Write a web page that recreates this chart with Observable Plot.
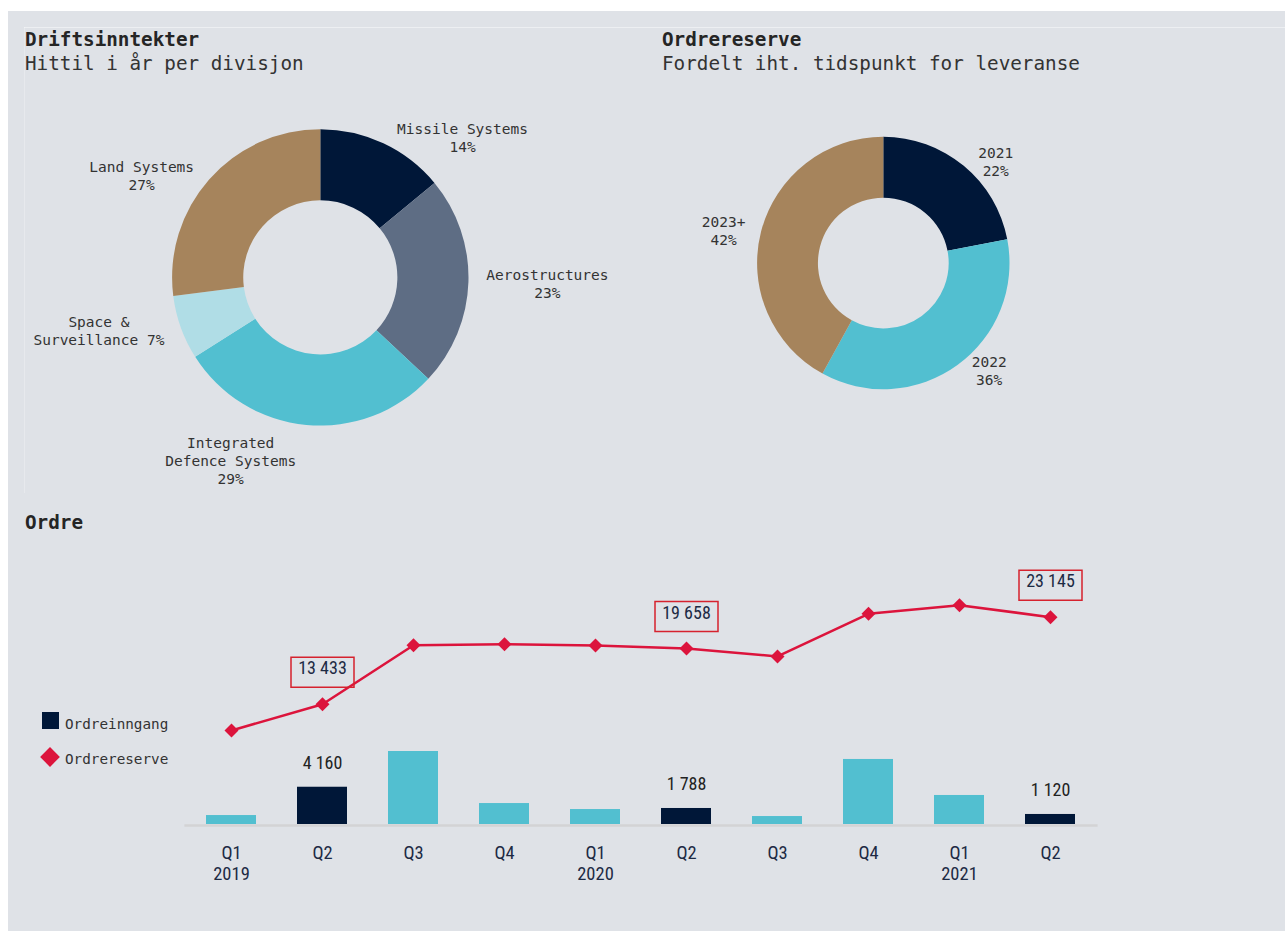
<!DOCTYPE html>
<html>
<head>
<meta charset="utf-8">
<script src="https://cdn.jsdelivr.net/npm/d3@7"></script>
<script src="https://cdn.jsdelivr.net/npm/@observablehq/plot@0.6"></script>
<style>
  html, body { margin: 0; padding: 0; background: #ffffff; width: 1285px; height: 931px; overflow: hidden; position: relative; }
  #panel { position: absolute; left: 8px; top: 11px; width: 1277px; height: 920px; background: #dfe2e7; }
  .hl { position: absolute; left: 24px; top: 27px; width: 1261px; height: 1px; background: rgba(255,255,255,0.45); }
  .vl { position: absolute; left: 24px; top: 27px; width: 1px; height: 466px; background: rgba(255,255,255,0.25); }
  .abs { position: absolute; }
  .t, .s { position: absolute; font-family: "DejaVu Sans Mono", monospace; font-size: 19.3px; line-height: 19.3px; white-space: pre; }
  .t { font-weight: bold; color: #252525; }
  .s { color: #333333; }
  .lg { position: absolute; font-family: "DejaVu Sans Mono", monospace; font-size: 14.3px; line-height: 14.3px; color: #333333; white-space: pre; }
  .sq { position: absolute; left: 42px; top: 712px; width: 17px; height: 17px; background: #001738; }
  .dm { position: absolute; left: 43px; top: 750px; width: 14px; height: 14px; background: #dc143c; transform: rotate(45deg); }
</style>
</head>
<body>
<div id="panel"></div>
<div class="hl"></div>
<div class="vl"></div>
<div class="t" style="left:25px;top:29.7px">Driftsinntekter</div>
<div class="s" style="left:25px;top:53.7px">Hittil i år per divisjon</div>
<div class="t" style="left:662px;top:29.7px">Ordrereserve</div>
<div class="s" style="left:662px;top:53.7px">Fordelt iht. tidspunkt for leveranse</div>
<div class="t" style="left:25px;top:512.7px">Ordre</div>
<div id="c1" class="abs" style="left:0;top:0"></div>
<div id="c2" class="abs" style="left:0;top:0"></div>
<div id="c3" class="abs" style="left:0;top:540px"></div>
<div class="sq"></div>
<div class="lg" style="left:65px;top:716.9px">Ordreinngang</div>
<div class="dm"></div>
<div class="lg" style="left:65px;top:752.2px">Ordrereserve</div>
<script>
// ---------- data ----------
const divisionNames = ["Missile Systems", "Aerostructures", "Integrated\nDefence Systems", "Space &\nSurveillance", "Land Systems"];
const divisionShares = [14, 23, 29, 7, 27];
const divisionLabelJoin = ["\n", "\n", "\n", " ", "\n"];
const divisionColors = ["#001738", "#5e6d84", "#52bfd0", "#b0dde6", "#a6845c"];

const backlogYears = ["2021", "2022", "2023+"];
const backlogShares = [22, 36, 42];
const backlogLabelJoin = ["\n", "\n", "\n"];
const backlogColors = ["#001738", "#52bfd0", "#a6845c"];

const quarters = ["Q1 2019", "Q2 2019", "Q3 2019", "Q4 2019", "Q1 2020", "Q2 2020", "Q3 2020", "Q4 2020", "Q1 2021", "Q2 2021"];
const quarterTicks = ["Q1\n2019", "Q2", "Q3", "Q4", "Q1\n2020", "Q2", "Q3", "Q4", "Q1\n2021", "Q2"];
const orderIntake = [1000, 4160, 8150, 2340, 1670, 1788, 890, 7260, 3240, 1120];
const orderBacklog = [10500, 13433, 20020, 20130, 19985, 19658, 18760, 23520, 24490, 23145];
const intakeLabelled = [false, true, false, false, false, true, false, false, false, true];
const backlogLabelled = [false, true, false, false, false, true, false, false, false, true];

// ---------- donuts ----------
const MONO = "DejaVu Sans Mono, monospace";
function donutPlot({names, shares, joins, colors, cx, cy, R, inner, k, gap, fs, lh}) {
  const data = names.map((n, i) => ({name: n, value: shares[i], color: colors[i], label: n + joins[i] + shares[i] + "%"}));
  const arcs = d3.pie().sort(null).value(d => d.value)(data);
  const labels = arcs.map(a => {
    const m = (a.startAngle + a.endAngle) / 2;
    const s = Math.sin(m), c = Math.cos(m);
    const r = R * k;
    const px = r * s, py = -r * c;
    const lines = a.data.label.split("\n");
    const w = d3.max(lines, l => l.length) * 0.602 * fs;
    const h = lines.length * fs * lh;
    const side = s >= 0 ? 1 : -1;
    let lx = px + side * (gap + w / 2);
    let ly = py;
    if (Math.abs(s) < 0.3) ly = py + (c < 0 ? 1 : -1) * h / 2;
    return {x: lx / R, y: -ly / R, text: a.data.label};
  });
  return Plot.plot({
    width: 1285, height: 500,
    margin: 0,
    x: {domain: [-1, 1], range: [cx - R, cx + R], axis: null},
    y: {domain: [-1, 1], range: [cy + R, cy - R], axis: null},
    style: {background: "transparent", overflow: "visible"},
    marks: [
      (index, scales) => {
        const X = scales && scales.x ? scales.x : (v => cx + v * R);
        const Y = scales && scales.y ? scales.y : (v => cy - v * R);
        const ox = X(0), oy = Y(0), rad = X(1) - X(0);
        const arc = d3.arc().innerRadius(rad * inner).outerRadius(rad);
        const g = d3.create("svg:g").attr("transform", `translate(${ox},${oy})`);
        g.selectAll("path").data(arcs).join("path")
          .attr("d", arc).attr("fill", d => d.data.color);
        return g.node();
      },
      Plot.text(labels, {x: "x", y: "y", text: "text", fontSize: fs, fontFamily: MONO, fill: "#333333", lineHeight: lh, textAnchor: "middle"})
    ]
  });
}

document.getElementById("c1").append(donutPlot({
  names: divisionNames, shares: divisionShares, joins: divisionLabelJoin, colors: divisionColors,
  cx: 320.3, cy: 277.4, R: 148.2, inner: 0.52, k: 1.05, gap: 10, fs: 14.5, lh: 1.24
}));
document.getElementById("c2").append(donutPlot({
  names: backlogYears, shares: backlogShares, joins: backlogLabelJoin, colors: backlogColors,
  cx: 883.3, cy: 263, R: 126.2, inner: 0.518, k: 1.05, gap: 10, fs: 14.5, lh: 1.24
}));

// ---------- orders combo chart ----------
const NARROW = "'Liberation Sans Narrow', 'Arial Narrow', 'Roboto Condensed', Roboto, sans-serif";
const loc = d3.formatLocale({decimal: ",", thousands: "\u00a0", grouping: [3], currency: ["", " kr"]});
const fmt = loc.format(",d");
const rows = quarters.map((q, i) => ({q, tick: quarterTicks[i], intake: orderIntake[i], backlog: orderBacklog[i], hi: intakeLabelled[i], bl: backlogLabelled[i]}));
const tickOf = new Map(rows.map(d => [d.q, d.tick]));
const RED = "#dc143c", NAVY = "#001738", CYAN = "#52bfd0";
const boxSymbol = { draw(ctx) { ctx.rect(-31.5, -15, 63, 30); } };

document.getElementById("c3").append(Plot.plot({
  width: 1285, height: 380,
  marginLeft: 184.4, marginRight: 187.4, marginTop: 33.2, marginBottom: 96,
  x: {type: "band", domain: quarters, paddingInner: 0.45, paddingOuter: 0.225, axis: null, label: null},
  y: {domain: [0, 28000], axis: null, label: null},
  style: {background: "transparent", overflow: "visible", fontFamily: NARROW},
  marks: [
    Plot.barY(rows.filter(d => !d.hi), {x: "q", y: "intake", fill: CYAN}),
    Plot.barY(rows.filter(d => d.hi), {x: "q", y: "intake", fill: NAVY}),
    Plot.ruleY([0], {stroke: "#d3d3d5", strokeWidth: 2.5, dy: 1}),
    Plot.axisX({tickSize: 0, tickPadding: 20, label: null, tickFormat: q => tickOf.get(q), fontSize: 18.5, lineHeight: 1.135, color: "#1d2a44", fontFamily: NARROW}),
    Plot.text(rows.filter(d => d.hi), {x: "q", y: "intake", text: d => fmt(d.intake), dy: -24, fontSize: 18, fill: "#222222", fontFamily: NARROW}),
    Plot.line(rows, {x: "q", y: "backlog", stroke: RED, strokeWidth: 2.5}),
    Plot.dot(rows, {x: "q", y: "backlog", symbol: "diamond2", r: 6.3, fill: RED, stroke: "none"}),
    Plot.dot(rows.filter(d => d.bl), {x: "q", y: "backlog", symbol: boxSymbol, r: 10, stroke: "#d6222e", fill: "none", strokeWidth: 1.5, dy: -32}),
    Plot.text(rows.filter(d => d.bl), {x: "q", y: "backlog", text: d => fmt(d.backlog), dy: -35.5, fontSize: 18, fill: "#1d2a44", fontFamily: NARROW})
  ]
}));
</script>
</body>
</html>
